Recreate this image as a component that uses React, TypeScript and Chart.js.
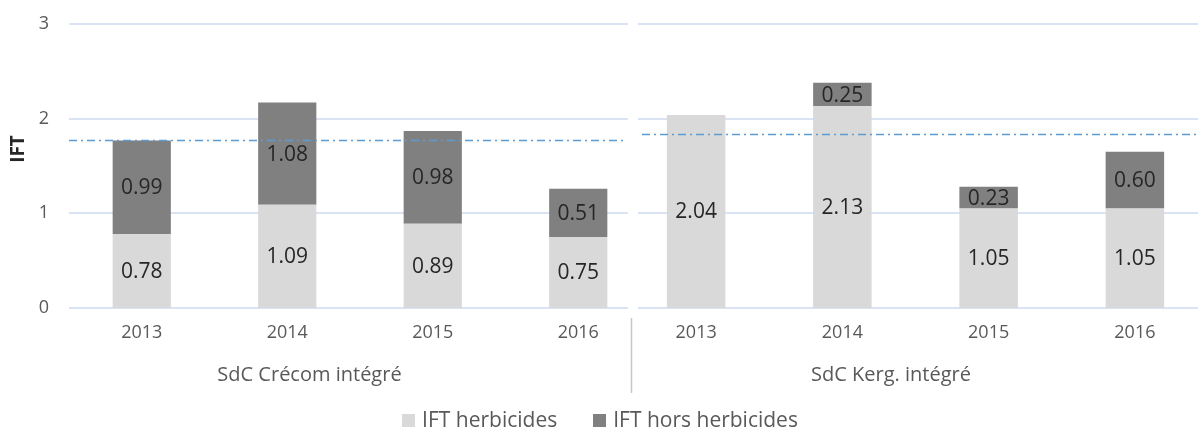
import React, { useEffect, useRef } from 'react';
import { Chart, registerables } from 'chart.js';

Chart.register(...registerables);

// ---------- data ----------
const YEARS = ['2013', '2014', '2015', '2016'];
const GROUPS = ['SdC Crécom intégré', 'SdC Kerg. intégré'];
const SERIES = ['IFT herbicides', 'IFT hors herbicides'];
const CRECOM_HERB = [0.78, 1.09, 0.89, 0.75];
const CRECOM_HORS = [0.99, 1.08, 0.98, 0.51];
const KERG_HERB = [2.04, 2.13, 1.05, 1.05];
const KERG_HORS = [null, 0.25, 0.23, 0.6];
const AVERAGES = [1.77, 1.84];
const Y_MIN = 0;
const Y_MAX = 3;
const Y_STEP = 1;
const Y_TITLE = 'IFT';

// ---------- styles ----------
const FONT = '"Open Sans", "Noto Sans", sans-serif';
const COLORS = ['#d9d9d9', '#808080'];
const TEXT = '#595959';
const GRID = '#d9e3f3';
const AVG_COLOR = '#5b9bd5';

type Extra = {
  gridInset: [number, number];
  avgInset: [number, number];
  avg: number;
  group: string;
  groupX: number;
  isLeft: boolean;
};

function makePlugin(ex: Extra) {
  return {
    id: 'custom',
    beforeDatasetsDraw(chart: any) {
      const { ctx, chartArea } = chart;
      const ys = chart.scales.y;
      ctx.save();
      ctx.strokeStyle = GRID;
      ctx.lineWidth = 2;
      ys.ticks.forEach((t: any) => {
        const y = Math.round(ys.getPixelForValue(t.value));
        ctx.beginPath();
        ctx.moveTo(chartArea.left + ex.gridInset[0], y);
        ctx.lineTo(chartArea.right - ex.gridInset[1], y);
        ctx.stroke();
      });
      ctx.restore();
    },
    afterDatasetsDraw(chart: any) {
      const { ctx, chartArea } = chart;
      const ys = chart.scales.y;
      ctx.save();
      // average dash-dot line
      const ay = Math.round(ys.getPixelForValue(ex.avg)) + 0.5;
      ctx.strokeStyle = AVG_COLOR;
      ctx.lineWidth = 1.5;
      ctx.setLineDash([8, 4, 2, 4]);
      ctx.beginPath();
      ctx.moveTo(chartArea.left + ex.avgInset[0], ay);
      ctx.lineTo(chartArea.right - ex.avgInset[1], ay);
      ctx.stroke();
      ctx.setLineDash([]);
      // value labels
      ctx.font = `21px ${FONT}`;
      ctx.fillStyle = '#262626';
      ctx.textAlign = 'center';
      ctx.textBaseline = 'middle';
      chart.data.datasets.forEach((ds: any, i: number) => {
        const meta = chart.getDatasetMeta(i);
        meta.data.forEach((el: any, j: number) => {
          const v = ds.data[j];
          if (v == null) return;
          const p = el.getProps(['x', 'y', 'base'], true);
          ctx.fillText(Number(v).toFixed(2), p.x, (p.y + p.base) / 2 + 1);
        });
      });
      ctx.restore();
    },
    afterDraw(chart: any) {
      const { ctx, chartArea } = chart;
      ctx.save();
      // group label
      ctx.font = `20px ${FONT}`;
      ctx.fillStyle = TEXT;
      ctx.textAlign = 'center';
      ctx.textBaseline = 'middle';
      ctx.fillText(ex.group, chartArea.left + ex.groupX, chartArea.bottom + 67);
      if (ex.isLeft) {
        // y title
        ctx.save();
        ctx.translate(chartArea.left - 50, chartArea.top + 125);
        ctx.rotate(-Math.PI / 2);
        ctx.font = `bold 19px ${FONT}`;
        ctx.fillStyle = '#262626';
        ctx.fillText(Y_TITLE, 0, 0);
        ctx.restore();
        // separator
        ctx.strokeStyle = '#c6c6c6';
        ctx.lineWidth = 1.5;
        const sx = Math.round(chartArea.right - 20) + 0.5;
        ctx.beginPath();
        ctx.moveTo(sx, chartArea.bottom + 10);
        ctx.lineTo(sx, chartArea.bottom + 85);
        ctx.stroke();
        // legend
        ctx.font = `21px ${FONT}`;
        const box = 13, gap = 7, itemGap = 36;
        const items = chart.data.datasets.map((ds: any) => ({
          label: ds.label,
          color: ds.backgroundColor,
          w: ctx.measureText(ds.label).width,
        }));
        let total = 0;
        items.forEach((it: any, k: number) => {
          total += box + gap + it.w + (k > 0 ? itemGap : 0);
        });
        let x = 600 - total / 2;
        const ly = chartArea.bottom + 112;
        ctx.textAlign = 'left';
        items.forEach((it: any) => {
          ctx.fillStyle = it.color;
          ctx.fillRect(Math.round(x), Math.round(ly - 6.5), box, box);
          ctx.fillStyle = TEXT;
          ctx.fillText(it.label, x + box + gap, ly + 1);
          x += box + gap + it.w + itemGap;
        });
      }
      ctx.restore();
    },
  };
}

function makeConfig(herb: (number | null)[], hors: (number | null)[], ex: Extra, padding: any): any {
  return {
    type: 'bar',
    data: {
      labels: YEARS,
      datasets: [
        { label: SERIES[0], data: herb, backgroundColor: COLORS[0], borderWidth: 0 },
        { label: SERIES[1], data: hors, backgroundColor: COLORS[1], borderWidth: 0 },
      ],
    },
    options: {
      responsive: false,
      animation: false,
      devicePixelRatio: 1,
      layout: { padding },
      datasets: { bar: { barPercentage: 0.4, categoryPercentage: 1 } },
      plugins: { legend: { display: false }, tooltip: { enabled: false } },
      scales: {
        x: {
          stacked: true,
          grid: { display: false, drawTicks: false },
          border: { display: false },
          ticks: { font: { family: FONT, size: 18 }, color: TEXT, padding: 14 },
          afterFit: (s: any) => {
            s.height = 122;
            s.paddingLeft = 0;
            s.paddingRight = 0;
          },
        },
        y: {
          display: ex.isLeft,
          stacked: true,
          min: Y_MIN,
          max: Y_MAX,
          grid: { display: false, drawTicks: false },
          border: { display: false },
          ticks: { stepSize: Y_STEP, font: { family: FONT, size: 18 }, color: TEXT, padding: 20 },
          afterFit: (s: any) => {
            s.width = ex.isLeft ? 69 : 0;
            s.paddingTop = 0;
            s.paddingBottom = 0;
          },
        },
      },
    },
    plugins: [makePlugin(ex)],
  };
}

export default function App() {
  const leftRef = useRef<HTMLCanvasElement>(null);
  const rightRef = useRef<HTMLCanvasElement>(null);

  useEffect(() => {
    const left = new Chart(
      leftRef.current!,
      makeConfig(
        CRECOM_HERB,
        CRECOM_HORS,
        { gridInset: [0, 23], avgInset: [0, 26], avg: AVERAGES[0], group: GROUPS[0], groupX: 240.5, isLeft: true },
        { top: 24, left: 0, right: 547, bottom: 0 }
      )
    );
    const right = new Chart(
      rightRef.current!,
      makeConfig(
        KERG_HERB,
        KERG_HORS,
        { gridInset: [15, 0], avgInset: [19, 0], avg: AVERAGES[1], group: GROUPS[1], groupX: 268, isLeft: false },
        { top: 24, left: 623, right: 2, bottom: 0 }
      )
    );
    return () => {
      left.destroy();
      right.destroy();
    };
  }, []);

  return (
    <div
      style={{
        position: 'absolute',
        left: 0,
        top: 0,
        width: 1198,
        height: 430,
        overflow: 'hidden',
        background: '#ffffff',
      }}
    >
      <canvas ref={leftRef} width={1198} height={430} style={{ position: 'absolute', left: 0, top: 0 }} />
      <canvas ref={rightRef} width={1210} height={430} style={{ position: 'absolute', left: 0, top: 0 }} />
    </div>
  );
}
